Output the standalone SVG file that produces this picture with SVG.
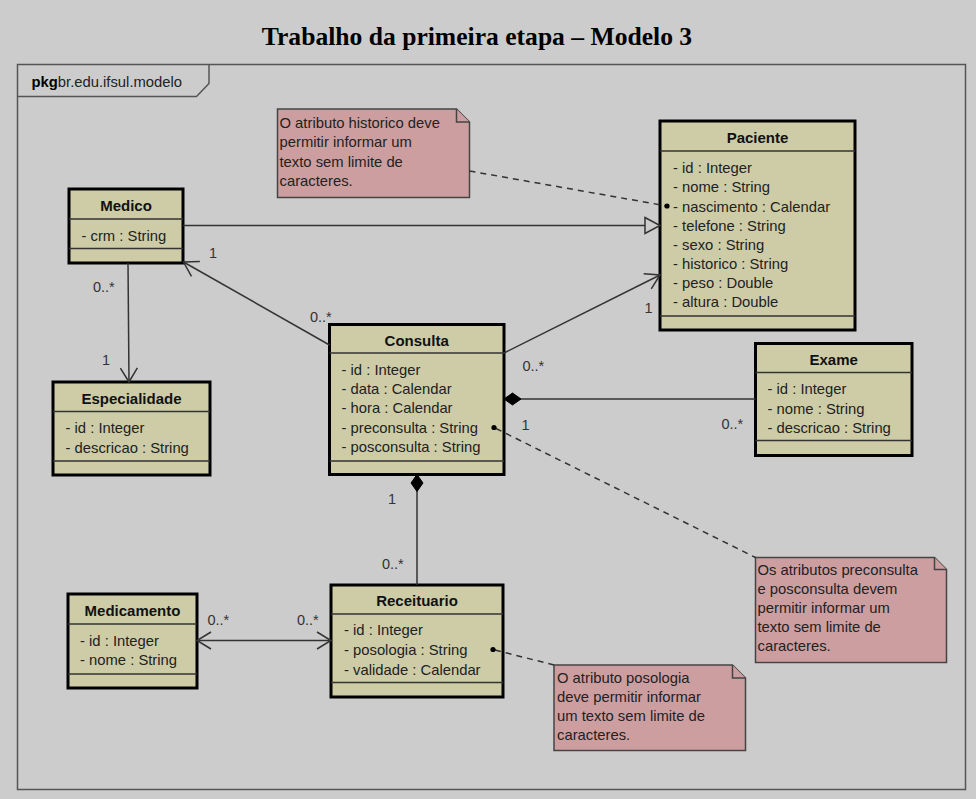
<svg xmlns="http://www.w3.org/2000/svg" width="976" height="799" viewBox="0 0 976 799">
<style>
.bg{fill:#cccccc}
.frame{fill:none;stroke:#555;stroke-width:1.5}
.cls{fill:#cdcca7;stroke:#000;stroke-width:3}
.sep{stroke:#333;stroke-width:1.5}
.note{fill:#cc9ea0;stroke:#444;stroke-width:1.5}
.t{font-family:"Liberation Sans",Arial,sans-serif;font-size:14.8px;fill:#222}
.tb{font-family:"Liberation Sans",Arial,sans-serif;font-size:15px;font-weight:bold;fill:#111;text-anchor:middle}
.m{font-family:"Liberation Sans",Arial,sans-serif;font-size:14.5px;fill:#333}
.ln{fill:none;stroke:#333;stroke-width:1.5}
.dash{fill:none;stroke:#333;stroke-width:1.5;stroke-dasharray:6 5}
.dot{fill:#000}
.title{font-family:"Liberation Serif","Times New Roman",serif;font-size:25.6px;font-weight:bold;fill:#000;text-anchor:middle}
</style>
<defs>
<marker id="open" markerUnits="userSpaceOnUse" markerWidth="18" markerHeight="20" viewBox="0 0 18 20" refX="16" refY="10" orient="auto-start-reverse">
<path d="M2,1.5 L16,10 L2,18.5" fill="none" stroke="#333" stroke-width="1.5"/>
</marker>
<marker id="diamond" markerUnits="userSpaceOnUse" markerWidth="20" markerHeight="14" viewBox="0 0 20 14" refX="18" refY="7" orient="auto-start-reverse">
<path d="M1,7 L9.5,1 L18,7 L9.5,13 Z" fill="#000" stroke="#000" stroke-width="1"/>
</marker>
<marker id="tri" markerUnits="userSpaceOnUse" markerWidth="18" markerHeight="20" viewBox="0 0 18 20" refX="16" refY="10" orient="auto">
<path d="M1,2 L16,10 L1,18 Z" fill="#cccccc" stroke="#333" stroke-width="1.5"/>
</marker>
</defs>
<rect class="bg" x="0" y="0" width="976" height="799"/>
<text class="title" x="477" y="45">Trabalho da primeira etapa – Modelo 3</text>

<g id="package">
<rect class="frame" x="17.5" y="64.5" width="948" height="725"/>
<path class="frame" d="M17.5,96.5 L196.5,96.5 L209,83.5 L209,64.5"/>
<text class="t" x="31.5" y="87"><tspan font-weight="bold" fill="#000">pkg</tspan>br.edu.ifsul.modelo</text>
</g>

<g id="note-historico">
<path class="note" d="M277.5,109 L456.5,109 L469.5,122 L469.5,197.5 L277.5,197.5 Z"/>
<path class="note" d="M456.5,109 L456.5,122 L469.5,122" fill="none"/>
<text class="t" x="279.5" y="128">O atributo historico deve</text>
<text class="t" x="279.5" y="147.3">permitir informar um</text>
<text class="t" x="279.5" y="166.6">texto sem limite de</text>
<text class="t" x="279.5" y="186">caracteres.</text>
</g>

<g id="Medico">
<rect class="cls" x="69" y="189" width="114" height="74"/>
<line class="sep" x1="69" y1="219" x2="183" y2="219"/>
<line class="sep" x1="69" y1="248.5" x2="183" y2="248.5"/>
<text class="tb" x="126" y="211">Medico</text>
<text class="t" x="81.5" y="241">- crm : String</text>
</g>

<g id="Paciente">
<rect class="cls" x="660" y="121" width="195" height="209"/>
<line class="sep" x1="660" y1="151" x2="855" y2="151"/>
<line class="sep" x1="660" y1="316" x2="855" y2="316"/>
<text class="tb" x="757.5" y="143">Paciente</text>
<text class="t" x="673" y="173.3">- id : Integer</text>
<text class="t" x="673" y="192.4">- nome : String</text>
<text class="t" x="673" y="211.5">- nascimento : Calendar</text>
<text class="t" x="673" y="230.6">- telefone : String</text>
<text class="t" x="673" y="249.7">- sexo : String</text>
<text class="t" x="673" y="268.8">- historico : String</text>
<text class="t" x="673" y="287.9">- peso : Double</text>
<text class="t" x="673" y="307">- altura : Double</text>
</g>

<g id="Consulta">
<rect class="cls" x="329.5" y="324.5" width="174.5" height="150"/>
<line class="sep" x1="329.5" y1="353" x2="504" y2="353"/>
<line class="sep" x1="329.5" y1="461" x2="504" y2="461"/>
<text class="tb" x="416.7" y="346">Consulta</text>
<text class="t" x="341.5" y="375">- id : Integer</text>
<text class="t" x="341.5" y="394.2">- data : Calendar</text>
<text class="t" x="341.5" y="413.3">- hora : Calendar</text>
<text class="t" x="341.5" y="432.5">- preconsulta : String</text>
<text class="t" x="341.5" y="451.6">- posconsulta : String</text>
</g>

<g id="Especialidade">
<rect class="cls" x="53" y="382" width="157" height="93"/>
<line class="sep" x1="53" y1="411.5" x2="210" y2="411.5"/>
<line class="sep" x1="53" y1="461" x2="210" y2="461"/>
<text class="tb" x="131.5" y="404">Especialidade</text>
<text class="t" x="65.5" y="433.3">- id : Integer</text>
<text class="t" x="65.5" y="452.5">- descricao : String</text>
</g>

<g id="Exame">
<rect class="cls" x="755.5" y="343.5" width="156.5" height="112"/>
<line class="sep" x1="755.5" y1="372.5" x2="912" y2="372.5"/>
<line class="sep" x1="755.5" y1="440.5" x2="912" y2="440.5"/>
<text class="tb" x="833.7" y="365">Exame</text>
<text class="t" x="767.5" y="394">- id : Integer</text>
<text class="t" x="767.5" y="413.5">- nome : String</text>
<text class="t" x="767.5" y="433">- descricao : String</text>
</g>

<g id="note-preconsulta">
<path class="note" d="M755.5,557.5 L934.5,557.5 L946.5,569.5 L946.5,662.5 L755.5,662.5 Z"/>
<path class="note" d="M934.5,557.5 L934.5,569.5 L946.5,569.5" fill="none"/>
<text class="t" x="757.5" y="575">Os atributos preconsulta</text>
<text class="t" x="757.5" y="594.1">e posconsulta devem</text>
<text class="t" x="757.5" y="613.2">permitir informar um</text>
<text class="t" x="757.5" y="632.3">texto sem limite de</text>
<text class="t" x="757.5" y="651.4">caracteres.</text>
</g>

<g id="Receituario">
<rect class="cls" x="331" y="585" width="172" height="112"/>
<line class="sep" x1="331" y1="614" x2="503" y2="614"/>
<line class="sep" x1="331" y1="682.5" x2="503" y2="682.5"/>
<text class="tb" x="417" y="606">Receituario</text>
<text class="t" x="344" y="635">- id : Integer</text>
<text class="t" x="344" y="655">- posologia : String</text>
<text class="t" x="344" y="674.5">- validade : Calendar</text>
</g>

<g id="Medicamento">
<rect class="cls" x="68" y="594" width="129" height="94"/>
<line class="sep" x1="68" y1="624" x2="197" y2="624"/>
<line class="sep" x1="68" y1="674" x2="197" y2="674"/>
<text class="tb" x="132.5" y="616">Medicamento</text>
<text class="t" x="80" y="645.7">- id : Integer</text>
<text class="t" x="80" y="665">- nome : String</text>
</g>

<g id="note-posologia">
<path class="note" d="M554,665 L732.5,665 L745.5,678 L745.5,750.5 L554,750.5 Z"/>
<path class="note" d="M732.5,665 L732.5,678 L745.5,678" fill="none"/>
<text class="t" x="557" y="683.3">O atributo posologia</text>
<text class="t" x="557" y="702.3">deve permitir informar</text>
<text class="t" x="557" y="721.3">um texto sem limite de</text>
<text class="t" x="557" y="740.3">caracteres.</text>
</g>

<g id="connectors">
<line class="ln" x1="183" y1="225.5" x2="660" y2="225.5" marker-end="url(#tri)"/>
<line class="ln" x1="329.5" y1="345" x2="183.5" y2="262" marker-end="url(#open)"/>
<line class="ln" x1="128" y1="263" x2="129" y2="382" marker-end="url(#open)"/>
<line class="ln" x1="504" y1="353" x2="660" y2="275" marker-end="url(#open)"/>
<line class="ln" x1="504" y1="399" x2="755.5" y2="399" marker-start="url(#diamond)"/>
<line class="ln" x1="417" y1="474.5" x2="417" y2="585" marker-start="url(#diamond)"/>
<line class="ln" x1="197" y1="640.5" x2="331" y2="640.5" marker-start="url(#open)" marker-end="url(#open)"/>
<line class="dash" x1="469.5" y1="171" x2="667" y2="206"/>
<circle class="dot" cx="667" cy="206" r="2.6"/>
<line class="dash" x1="496" y1="428.5" x2="755.5" y2="557.5"/>
<circle class="dot" cx="494" cy="427.5" r="2.6"/>
<line class="dash" x1="495" y1="650" x2="554" y2="665"/>
<circle class="dot" cx="493" cy="649.5" r="2.6"/>
<text class="m" x="209" y="258">1</text>
<text class="m" x="310" y="322">0..*</text>
<text class="m" x="93" y="292">0..*</text>
<text class="m" x="102" y="365">1</text>
<text class="m" x="522.5" y="371">0..*</text>
<text class="m" x="644.5" y="312.5">1</text>
<text class="m" x="521.5" y="429.5">1</text>
<text class="m" x="721.5" y="428.5">0..*</text>
<text class="m" x="388" y="504">1</text>
<text class="m" x="382" y="568.5">0..*</text>
<text class="m" x="207.5" y="624.5">0..*</text>
<text class="m" x="297" y="624.5">0..*</text>
</g>
</svg>
